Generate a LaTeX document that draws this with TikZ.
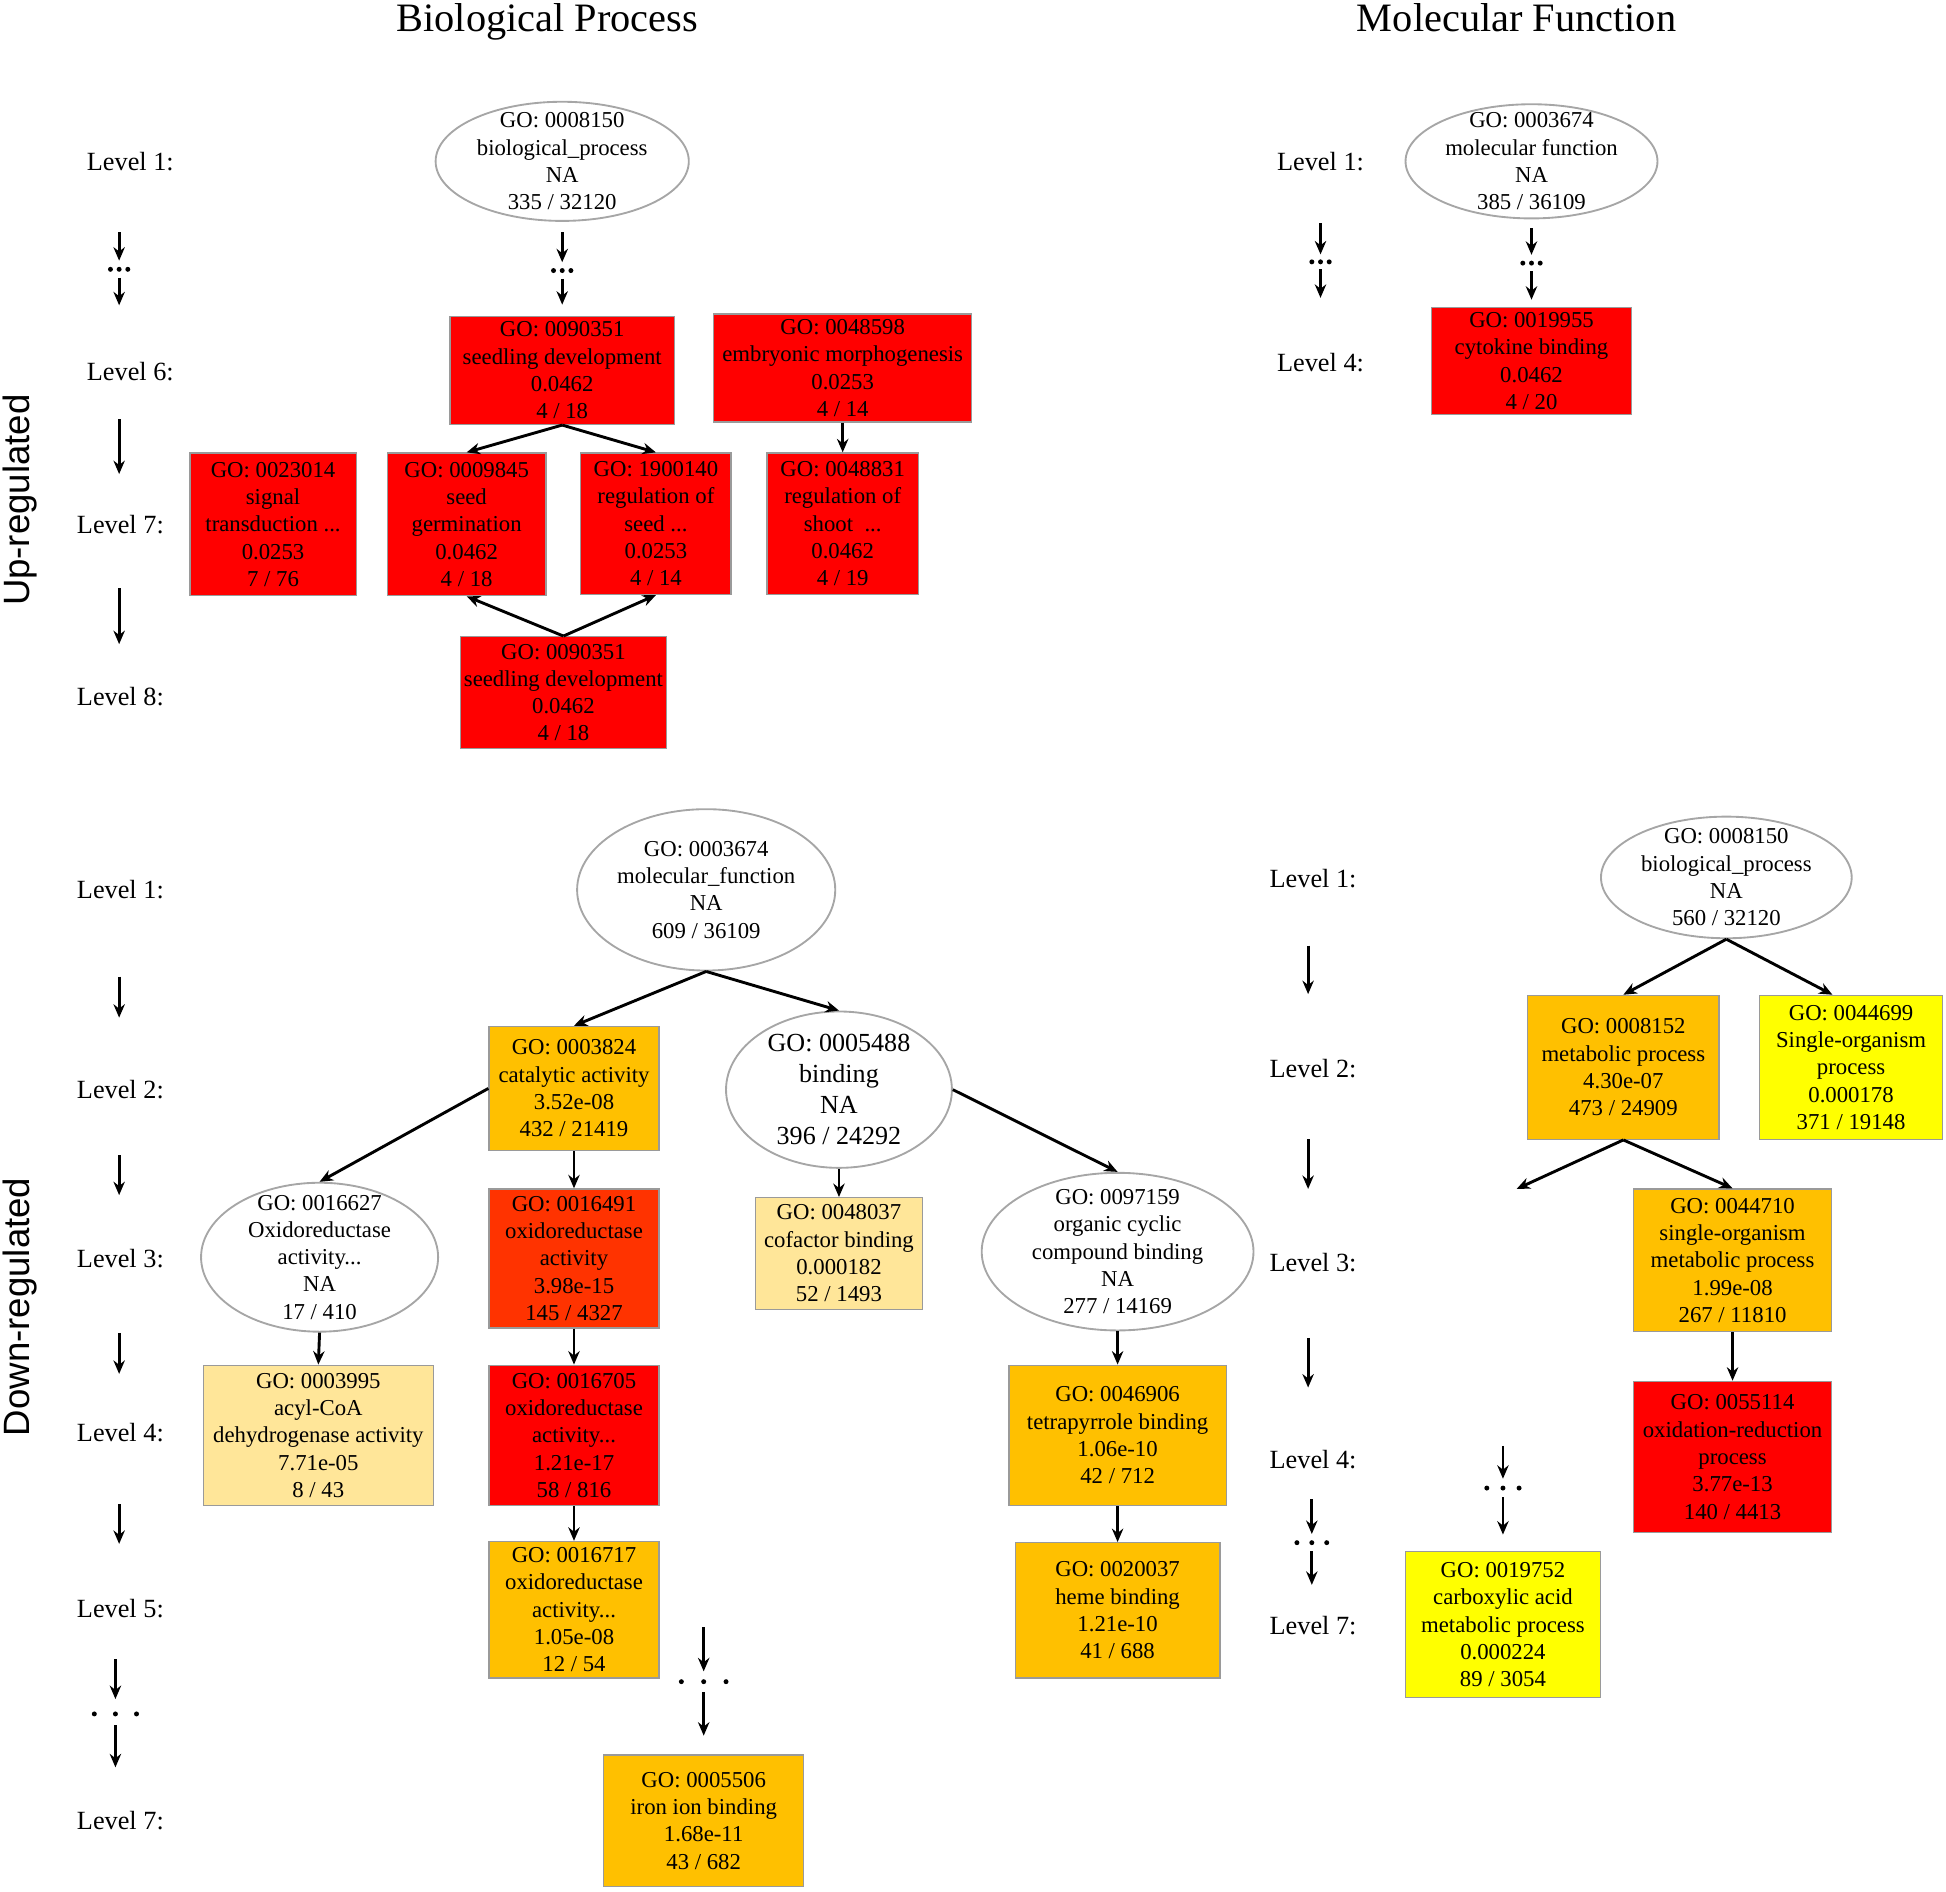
\documentclass[tikz,border=0pt]{standalone}
\usepackage{fontspec}
\setmainfont{Liberation Serif}
\newfontfamily\sidefont{Liberation Sans}
\usetikzlibrary{shapes.geometric,arrows.meta}
\definecolor{gored}{HTML}{FF0000}
\definecolor{goorange}{HTML}{FFC000}
\definecolor{goredor}{HTML}{FF3300}
\definecolor{golight}{HTML}{FFE699}
\definecolor{goyellow}{HTML}{FFFF00}
\definecolor{boxgray}{HTML}{9A9A9A}
\definecolor{ellgray}{HTML}{A6A6A6}
\newcommand\gdots[2]{\fill (#1) +(-#2,0) circle (1.2pt) +(0,0) circle (1.2pt) +(#2,0) circle (1.2pt);}
\begin{document}
\begin{tikzpicture}[x=0.6pt,y=-0.6pt,
  txt/.style={font=\fontsize{11}{13.2}\selectfont, align=center},
  sz/.style 2 args={minimum width=#1*0.6pt, minimum height=#2*0.6pt},
  gobox/.style={txt, rectangle, draw=boxgray, line width=0.6pt, inner sep=0pt},
  goell/.style={txt, ellipse, draw=ellgray, line width=0.9pt, inner xsep=-20pt, inner ysep=-20pt},
  lvl/.style={font=\fontsize{12.7}{15}\selectfont},
  ttl/.style={font=\fontsize{19.5}{23}\selectfont, anchor=base},
  side/.style={font=\sidefont\fontsize{17.7}{20}\selectfont, rotate=90},
  arr/.style={-{Stealth[length=6.5pt,width=5.5pt]}, line width=1.4pt},
]
\path[use as bounding box] (0,0) rectangle (1568,1524);

% titles and side labels
\node[ttl] (tbp) at (441,25) {Biological Process};
\node[ttl] (tmf) at (1222,25) {Molecular Function};
\node[side] (sup) at (16,403) {Up-regulated};
\node[side] (sdown) at (16,1053) {Down-regulated};

% ---------------- Up-regulated, Biological Process ----------------
\node[lvl] (ua1) at (105,130) {Level 1:};
\node[lvl] (ua6) at (105,299) {Level 6:};
\node[lvl] (ua7) at (97,423) {Level 7:};
\node[lvl] (ua8) at (97,561) {Level 8:};
\draw[arr] (96,187) -- (96,210);
\gdots{96,217}{7}
\draw[arr] (96,224) -- (96,246);
\draw[arr] (96,338) -- (96,382);
\draw[arr] (96,474) -- (96,519);

\node[goell, sz={204}{96}] (bpu) at (453,130) {GO: 0008150\\biological\_process\\NA\\335 / 32120};
\node[gobox, fill=gored, sz={181}{87}] (sd6) at (453,298.5) {GO: 0090351\\seedling development\\0.0462\\4 / 18};
\node[gobox, fill=gored, sz={208}{87}] (em6) at (679,296.5) {GO: 0048598\\embryonic morphogenesis\\0.0253\\4 / 14};
\node[gobox, fill=gored, sz={134}{115}] (st7) at (220,422.5) {GO: 0023014\\signal\\transduction ...\\0.0253\\7 / 76};
\node[gobox, fill=gored, sz={128}{115}] (sg7) at (376,422.5) {GO: 0009845\\seed\\germination\\0.0462\\4 / 18};
\node[gobox, fill=gored, sz={121}{114}] (rs7) at (528.5,422) {GO: 1900140\\regulation of\\seed ...\\0.0253\\4 / 14};
\node[gobox, fill=gored, sz={122}{114}] (rh7) at (679,422) {GO: 0048831\\regulation of\\shoot \ ...\\0.0462\\4 / 19};
\node[gobox, fill=gored, sz={166}{90}] (sd8) at (454,558) {GO: 0090351\\seedling development\\0.0462\\4 / 18};

\coordinate (bpudots) at (453,218);
\draw[arr] ([yshift=-5pt]bpu.south) -- ([yshift=4pt]bpudots);
\gdots{bpudots}{7}
\draw[arr] ([yshift=-4pt]bpudots) -- ([yshift=5.4pt]sd6.north);
\draw[arr] (sd6.south) -- (sg7.north);
\draw[arr] (sd6.south) -- (rs7.north);
\draw[arr] (em6.south) -- (rh7.north);
\draw[arr] (sd8.north) -- (sg7.south);
\draw[arr] (sd8.north) -- (rs7.south);

% ---------------- Up-regulated, Molecular Function ----------------
\node[lvl] (ub1) at (1064,130) {Level 1:};
\node[lvl] (ub4) at (1064,292) {Level 4:};
\draw[arr] (1064,180) -- (1064,205);
\gdots{1064,211}{7}
\draw[arr] (1064,217) -- (1064,240);

\node[goell, sz={203}{92}] (mfu) at (1234,130) {GO: 0003674\\molecular function\\NA\\385 / 36109};
\node[gobox, fill=gored, sz={161}{86}] (cb4) at (1234,291) {GO: 0019955\\cytokine binding\\0.0462\\4 / 20};
\coordinate (mfudots) at (1234,212);
\draw[arr] ([yshift=-4.2pt]mfu.south) -- ([yshift=4pt]mfudots);
\gdots{mfudots}{7}
\draw[arr] ([yshift=-4pt]mfudots) -- ([yshift=3.6pt]cb4.north);

% ---------------- Down-regulated, left ----------------
\node[lvl] (da1) at (97,717) {Level 1:};
\node[lvl] (da2) at (97,878) {Level 2:};
\node[lvl] (da3) at (97,1014) {Level 3:};
\node[lvl] (da4) at (97,1154) {Level 4:};
\node[lvl] (da5) at (97,1296) {Level 5:};
\node[lvl] (da7) at (97,1467) {Level 7:};
\draw[arr] (96,787) -- (96,820);
\draw[arr] (96,931) -- (96,963);
\draw[arr] (96,1074) -- (96,1107);
\draw[arr] (96,1212) -- (96,1244);
\draw[arr] (93,1337) -- (93,1369);
\gdots{93,1381}{17}
\draw[arr] (93,1390) -- (93,1424);

\node[goell, sz={208}{130}] (mfd) at (569,717) {GO: 0003674\\molecular\_function\\NA\\609 / 36109};
\node[gobox, fill=goorange, sz={137}{100}] (cat) at (462.5,877) {GO: 0003824\\catalytic activity\\3.52e-08\\432 / 21419};
\node[goell, sz={182}{126}, font=\fontsize{12.6}{15}\selectfont] (bind) at (676,878) {GO: 0005488\\binding\\NA\\396 / 24292};
\node[goell, sz={191}{120}] (oxe) at (257.5,1013) {GO: 0016627\\Oxidoreductase\\activity...\\NA\\17 / 410};
\node[gobox, fill=goredor, sz={137}{112}] (ox3) at (462.5,1014) {GO: 0016491\\oxidoreductase\\activity\\3.98e-15\\145 / 4327};
\node[gobox, fill=golight, sz={134}{90}] (cof) at (676,1010) {GO: 0048037\\cofactor binding\\0.000182\\52 / 1493};
\node[goell, sz={219}{127}] (oc) at (900.5,1008.5) {GO: 0097159\\organic cyclic\\compound binding\\NA\\277 / 14169};
\node[gobox, fill=golight, sz={185}{113}] (acyl) at (256.5,1156.5) {GO: 0003995\\acyl-CoA\\dehydrogenase activity\\7.71e-05\\8 / 43};
\node[gobox, fill=gored, sz={137}{113}] (ox4) at (462.5,1156.5) {GO: 0016705\\oxidoreductase\\activity...\\1.21e-17\\58 / 816};
\node[gobox, fill=goorange, sz={175}{113}] (tet) at (900.5,1156.5) {GO: 0046906\\tetrapyrrole binding\\1.06e-10\\42 / 712};
\node[gobox, fill=goorange, sz={137}{110}] (ox5) at (462.5,1297) {GO: 0016717\\oxidoreductase\\activity...\\1.05e-08\\12 / 54};
\node[gobox, fill=goorange, sz={165}{109}] (heme) at (900.5,1297.5) {GO: 0020037\\heme binding\\1.21e-10\\41 / 688};
\node[gobox, fill=goorange, sz={161}{106}] (iron) at (567,1467) {GO: 0005506\\iron ion binding\\1.68e-11\\43 / 682};

\draw[arr] (mfd.south) -- (cat.north);
\draw[arr] (mfd.south) -- (bind.north);
\draw[arr] (cat.west) -- (oxe.north);
\draw[arr] (cat.south) -- (ox3.north);
\draw[arr] (bind.south) -- (cof.north);
\draw[arr] (bind.east) -- (oc.north);
\draw[arr] (oxe.south) -- (acyl.north);
\draw[arr] (ox3.south) -- (ox4.north);
\draw[arr] (oc.south) -- (tet.north);
\draw[arr] (ox4.south) -- (ox5.north);
\draw[arr] (tet.south) -- (heme.north);
\coordinate (ironsrc) at (567,1311);
\coordinate (irondots) at (567,1355);
\draw[arr] (ironsrc) -- ([yshift=5pt]irondots);
\gdots{irondots}{18}
\draw[arr] ([yshift=-5pt]irondots) -- ([yshift=9pt]iron.north);

% ---------------- Down-regulated, right ----------------
\node[lvl] (db1) at (1058,708) {Level 1:};
\node[lvl] (db2) at (1058,861) {Level 2:};
\node[lvl] (db3) at (1058,1017) {Level 3:};
\node[lvl] (db4) at (1058,1176) {Level 4:};
\node[lvl] (db7) at (1058,1310) {Level 7:};
\draw[arr] (1054,762) -- (1054,801);
\draw[arr] (1054,918) -- (1054,958);
\draw[arr] (1054,1078) -- (1054,1118);
\draw[arr] (1057,1208) -- (1057,1236);
\gdots{1057,1243}{12}
\draw[arr] (1057,1250) -- (1057,1277);

\node[goell, sz={202}{98}] (bpd) at (1391,707) {GO: 0008150\\biological\_process\\NA\\560 / 32120};
\node[gobox, fill=goorange, sz={154}{116}] (met) at (1308,860) {GO: 0008152\\metabolic process\\4.30e-07\\473 / 24909};
\node[gobox, fill=goyellow, sz={147}{116}] (sop) at (1491.5,860) {GO: 0044699\\Single-organism\\process\\0.000178\\371 / 19148};
\node[gobox, fill=goorange, sz={160}{115}] (som) at (1396,1015.5) {GO: 0044710\\single-organism\\metabolic process\\1.99e-08\\267 / 11810};
\node[gobox, fill=gored, sz={160}{122}] (orr) at (1396,1174) {GO: 0055114\\oxidation-reduction\\process\\3.77e-13\\140 / 4413};
\node[gobox, fill=goyellow, sz={157}{118}] (carb) at (1211,1309) {GO: 0019752\\carboxylic acid\\metabolic process\\0.000224\\89 / 3054};

\coordinate (metfree) at (1222,958);
\draw[arr] (bpd.south) -- (met.north);
\draw[arr] (bpd.south) -- ([xshift=-9pt]sop.north);
\draw[arr] (met.south) -- (metfree);
\draw[arr] (met.south) -- (som.north);
\draw[arr] (som.south) -- (orr.north);
\coordinate (carbsrc) at (1211,1165);
\coordinate (carbdots) at (1211,1199);
\draw[arr] (carbsrc) -- ([yshift=4.5pt]carbdots);
\gdots{carbdots}{13}
\draw[arr] ([yshift=-4.5pt]carbdots) -- ([yshift=7.8pt]carb.north);
\end{tikzpicture}
\end{document}
